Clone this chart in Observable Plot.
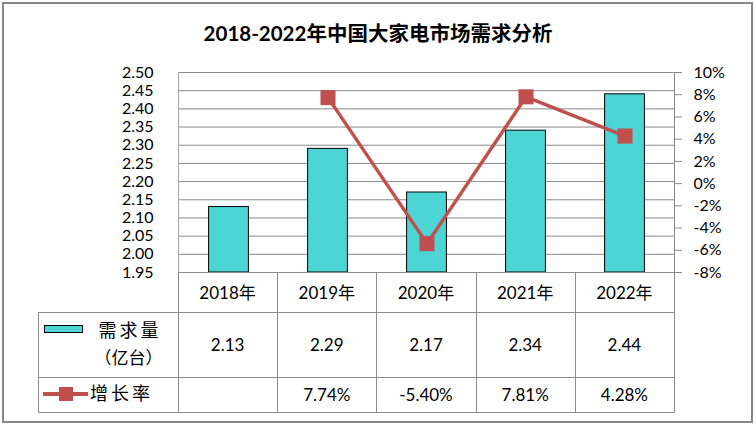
<!DOCTYPE html>
<html><head><meta charset="utf-8">
<script src="https://cdn.jsdelivr.net/npm/d3@7"></script>
<script src="https://cdn.jsdelivr.net/npm/@observablehq/plot@0.6"></script>
<style>
body{margin:0;background:#fff}
#wrap{position:relative;width:756px;height:426px;overflow:hidden;font-family:Lato,"Noto Sans CJK SC",sans-serif;color:#000}
#border{position:absolute;left:2px;top:2px;width:751px;height:421px;border:2px solid #878787;box-sizing:border-box}
#title{position:absolute;left:0;top:20px;width:756px;text-align:center;font-weight:bold;font-size:20.5px;line-height:26px;font-family:Lato,"Noto Sans CJK SC",sans-serif}
#chart{position:absolute;left:0;top:0}
#tbl{position:absolute;left:0;top:0;width:756px;height:426px}
.cell{position:absolute;box-sizing:border-box;display:flex;align-items:center;justify-content:center;font-size:17px}
.ln{position:absolute;background:#8c8c8c}
</style>
</head><body>
<div id="wrap">
  <div id="border"></div>
  <div id="chart"></div>
  <div id="title">2018-2022年中国大家电市场需求分析</div>
  <div id="tbl"></div>
</div>
<script>
const years = ["2018年","2019年","2020年","2021年","2022年"];
const demand = [2.13, 2.29, 2.17, 2.34, 2.44];
const growth = [null, 7.74, -5.40, 7.81, 4.28];
const demandLabels = ["2.13","2.29","2.17","2.34","2.44"];
const growthLabels = ["","7.74%","-5.40%","7.81%","4.28%"];
const leftTicks = [1.95,2.00,2.05,2.10,2.15,2.20,2.25,2.30,2.35,2.40,2.45,2.50];
const rightTicks = [-8,-6,-4,-2,0,2,4,6,8,10];
const seriesNames = ["需求量", "（亿台）", "增长率"];

const barColor = "#4dd4d4";
const lineColor = "#c0504d";
const gridColor = "#898989";

// map right-axis percentage onto the left (demand) scale
const yMin = 1.95, yMax = 2.50, pMin = -8, pMax = 10;
const toLeft = p => yMin + (p - pMin) / (pMax - pMin) * (yMax - yMin);
const toPct = v => Math.round((v - yMin) / (yMax - yMin) * (pMax - pMin) + pMin);

const barData = years.map((y, i) => ({year: y, demand: demand[i]}));
const lineData = years.map((y, i) => ({year: y, growth: growth[i]})).filter(d => d.growth != null);

const mL = 178, mR = 82, mT = 72, mB = 154, W = 756, H = 426;

const chart = Plot.plot({
  width: W, height: H,
  marginLeft: mL, marginRight: mR, marginTop: mT, marginBottom: mB,
  x: {domain: years, padding: 0, axis: null},
  y: {domain: [yMin, yMax], axis: null},
  style: {fontFamily: "Lato, 'Noto Sans CJK SC', sans-serif", fontSize: "16px", color: "#000", background: "transparent", overflow: "visible"},
  marks: [
    Plot.ruleY(leftTicks, {stroke: gridColor, strokeWidth: 1}),
    Plot.frame({anchor: "left", stroke: "#a6a6a6"}),
    Plot.frame({anchor: "right", stroke: gridColor}),
    Plot.barY(barData, {x: "year", y1: yMin, y2: "demand", fill: barColor, stroke: "#000", strokeWidth: 1, insetLeft: 29.6, insetRight: 29.6}),
    Plot.line(lineData, {x: "year", y: d => toLeft(d.growth), stroke: lineColor, strokeWidth: 3.5}),
    Plot.dot(lineData, {x: "year", y: d => toLeft(d.growth), symbol: "square", r: 8.5, fill: lineColor, stroke: "none"}),
    Plot.axisY(leftTicks, {anchor: "left", label: null, tickSize: 0, tickPadding: 25, tickFormat: d => d.toFixed(2), fontSize: 16}),
    Plot.axisY(rightTicks.map(toLeft), {anchor: "right", label: null, tickSize: 7, tickPadding: 12, stroke: gridColor, tickFormat: v => toPct(v) + "%", fontSize: 16})
  ]
});
document.getElementById("chart").appendChild(chart);

// data table under the chart
const tbl = document.getElementById("tbl");
const colX = [38, 178, 277.2, 376.4, 475.6, 574.8, 674];
const rowY = [272, 311.5, 376.5, 411.5];
function line(x, y, w, h) {
  const d = document.createElement("div"); d.className = "ln";
  Object.assign(d.style, {left: x + "px", top: y + "px", width: w + "px", height: h + "px"});
  tbl.appendChild(d);
}
function cell(x0, x1, y0, y1, text) {
  const d = document.createElement("div"); d.className = "cell";
  Object.assign(d.style, {left: x0 + "px", top: y0 + "px", width: (x1 - x0) + "px", height: (y1 - y0) + "px"});
  d.textContent = text; tbl.appendChild(d); return d;
}
// horizontal lines
line(178, rowY[0], 496, 1);
line(38, rowY[1], 636, 1);
line(38, rowY[2], 636, 1);
line(38, rowY[3], 637, 1);
// vertical lines
line(38, rowY[1], 1, rowY[3] - rowY[1]);
for (let i = 1; i < colX.length; i++) line(colX[i], rowY[0], 1, rowY[3] - rowY[0] + 1);
years.forEach((y, i) => {
  cell(colX[i + 1], colX[i + 2], rowY[0], rowY[1], y);
  cell(colX[i + 1], colX[i + 2], rowY[1], rowY[2], demandLabels[i]);
  cell(colX[i + 1], colX[i + 2], rowY[2], rowY[3], growthLabels[i]);
});
// legend: demand
const sw = document.createElement("div");
Object.assign(sw.style, {position: "absolute", left: "44px", top: "325px", width: "39px", height: "8px", background: barColor, border: "1px solid #000", boxSizing: "border-box"});
tbl.appendChild(sw);
const t1 = cell(95, 165, 318, 340, seriesNames[0]); t1.style.letterSpacing = "3px"; t1.style.fontSize = "18px";
const t2 = cell(92, 165, 345, 367, seriesNames[1]); t2.style.fontSize = "17px";
// legend: growth
const gl = document.createElement("div");
Object.assign(gl.style, {position: "absolute", left: "43px", top: "392px", width: "45px", height: "4px", background: lineColor});
tbl.appendChild(gl);
const gm = document.createElement("div");
Object.assign(gm.style, {position: "absolute", left: "59px", top: "387px", width: "14px", height: "14px", background: lineColor});
tbl.appendChild(gm);
const t3 = cell(88, 155, 381, 403, seriesNames[2]); t3.style.letterSpacing = "3px"; t3.style.fontSize = "18px";
</script>
</body></html>
